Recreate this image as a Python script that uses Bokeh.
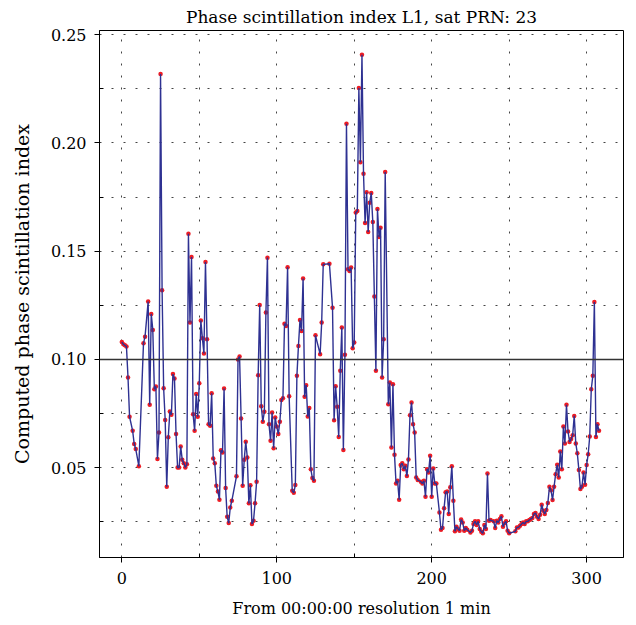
from bokeh.plotting import figure
from bokeh.models import Range1d, Span, FixedTicker, NumeralTickFormatter
from bokeh.embed import file_html
from bokeh.resources import INLINE

# minute index (from 00:00:00, 1 min resolution)
minutes = [0, 1, 2, 3, 4, 5, 7, 8, 9, 11, 14, 15,
           17, 18, 19, 20, 21, 22, 23, 24, 25, 26, 27, 28, 29, 30, 31, 32, 33, 34, 35, 36,
           37, 38, 39, 40, 41, 42, 43, 44, 45, 46, 47, 48, 49, 50, 51, 52, 53, 54, 55, 56,
           57, 58, 59, 60, 61, 62, 63, 64, 65, 66, 67, 68, 69, 70, 71,
           74, 75, 76, 77, 78, 79, 80, 81, 82, 83, 84, 85, 86, 87, 88, 89, 90, 91, 92, 93,
           94, 95, 96, 97, 98, 99, 100, 101, 102, 103, 104, 105, 106, 107, 108,
           110, 111, 112, 113, 114, 115, 116, 117, 118, 119, 120, 121, 122, 123, 124, 125,
           128, 129, 130, 134,
           136, 137, 138, 139, 140, 141, 142, 143, 144, 145, 146, 147, 148, 149, 150, 151,
           152, 153, 154, 155, 156, 157, 158, 159, 160, 161, 162, 163, 164, 165, 166, 167,
           168, 169, 170,
           172, 173, 174, 175, 176, 177, 178, 179, 180, 181, 182, 183, 184, 185, 186, 187,
           188, 189, 190, 191, 193, 194, 195, 196, 197, 198, 199, 200, 201, 202, 203,
           205, 206, 207, 208, 209, 210, 211, 212, 213, 214, 215, 216, 217, 218, 219, 220,
           221, 222, 223, 225, 226, 227, 228, 229, 230, 231,
           232, 233, 234, 235, 236, 237, 238, 240, 241, 242, 243, 244, 245, 246, 247, 248,
           249, 250,
           254, 255, 256, 257, 258, 259, 260, 261, 262, 263, 264, 265, 266, 267, 268, 269,
           270, 271, 272, 273, 274, 275, 276, 277, 278, 279, 280, 281, 282, 283, 284, 285,
           286, 287, 288, 289, 290, 291, 292, 293, 294, 295, 296, 297, 298, 299, 300, 301,
           302, 303, 304, 305, 306, 307, 308]

# computed phase scintillation index
sigma_phi = [0.108, 0.107, 0.1065, 0.1059, 0.0916, 0.0735, 0.067, 0.0609, 0.0586, 0.0507, 0.1075, 0.1105,
             0.1267, 0.079, 0.121, 0.1136, 0.0862, 0.0875, 0.054, 0.0662, 0.2318, 0.1319, 0.0867, 0.072,
             0.0412, 0.064, 0.0759, 0.0744, 0.0932, 0.0912, 0.0655, 0.0501,
             0.0501, 0.0598, 0.0536, 0.052, 0.0501, 0.0516, 0.158, 0.117, 0.1473, 0.0747, 0.067, 0.084,
             0.0735, 0.089, 0.118, 0.1098, 0.1027, 0.145, 0.1093, 0.070,
             0.0693, 0.0844, 0.0542, 0.052, 0.0416, 0.039, 0.0352, 0.058, 0.057, 0.0865, 0.0406, 0.0273,
             0.0244, 0.0316, 0.0347,
             0.046, 0.100, 0.1013, 0.0727, 0.0416, 0.0536, 0.062, 0.0547, 0.0335, 0.0419, 0.024, 0.0255,
             0.0336, 0.0435, 0.0927, 0.1251, 0.0784, 0.0712, 0.0758, 0.1216,
             0.147, 0.070, 0.0624, 0.0755, 0.059, 0.0732, 0.069, 0.0655, 0.0712, 0.0813, 0.082, 0.1165,
             0.1154, 0.1426, 0.083,
             0.0393, 0.0384, 0.042, 0.0924, 0.1062, 0.1182, 0.1131, 0.1374, 0.0827, 0.0881, 0.0736, 0.0776,
             0.0493, 0.0452, 0.0439, 0.1111,
             0.1024, 0.117, 0.1439, 0.1442,
             0.1239, 0.0719, 0.0876, 0.0781, 0.0642, 0.0947, 0.1147, 0.0582, 0.1021, 0.2088, 0.1416, 0.1408,
             0.1424, 0.1051, 0.1078, 0.1678,
             0.1685, 0.2253, 0.191, 0.2407, 0.1857, 0.163, 0.1772, 0.1588, 0.1723, 0.1769, 0.1634, 0.1291,
             0.0947, 0.1695, 0.1565, 0.1608,
             0.0916, 0.1093, 0.1866,
             0.0793, 0.0893, 0.0593, 0.0885, 0.0559, 0.0427, 0.0439, 0.0352, 0.0512, 0.052, 0.0493, 0.0509,
             0.0461, 0.0538, 0.0742, 0.0801,
             0.0701, 0.0662, 0.0455, 0.0443, 0.0435, 0.0427, 0.0439, 0.0366, 0.0493, 0.0478, 0.0555, 0.0366,
             0.0496, 0.0427, 0.0427,
             0.0293, 0.0213, 0.0221, 0.0313, 0.0386, 0.039, 0.0286, 0.0409, 0.0506, 0.0347, 0.0206, 0.0227,
             0.0217, 0.0209, 0.026, 0.0247,
             0.0209, 0.0221, 0.0213, 0.0201, 0.0209, 0.024, 0.0252, 0.0235, 0.0252, 0.0217,
             0.0204, 0.0197, 0.0235, 0.0217, 0.0473, 0.0255, 0.0258, 0.0252, 0.0221, 0.0255, 0.0247, 0.0263,
             0.0275, 0.0227, 0.0243, 0.0252,
             0.0209, 0.0197,
             0.0206, 0.0224, 0.0224, 0.0232, 0.0240, 0.0247, 0.024, 0.0252, 0.0252, 0.0258, 0.0263, 0.0267,
             0.0286, 0.029, 0.0273, 0.0263,
             0.0283, 0.0329, 0.0301, 0.0286, 0.0304, 0.0337, 0.0412, 0.0396, 0.035, 0.0412, 0.047, 0.0513,
             0.0455, 0.0575, 0.0493, 0.069,
             0.0612, 0.079, 0.0667, 0.0619, 0.0632, 0.065, 0.0739, 0.0612, 0.0566, 0.0489, 0.0401, 0.0412,
             0.0478, 0.0421, 0.0512, 0.0562,
             0.0644, 0.0862, 0.0924, 0.1265, 0.0642, 0.0701, 0.067]

threshold = 0.10
x_ticks = [0, 100, 200, 300]
x_minor = [50, 150, 250]
y_ticks = [0.05, 0.10, 0.15, 0.20, 0.25]
y_minor = [0.025, 0.075, 0.125, 0.175, 0.225]

FONT = "DejaVu Serif"

p = figure(width=636, height=625, output_backend="svg", toolbar_location=None,
           x_range=Range1d(-14.4, 323.8), y_range=Range1d(0.0085, 0.2519),
           min_border_left=99, min_border_right=13, min_border_top=29, min_border_bottom=68,
           title="Phase scintillation index L1, sat PRN: 23")

p.title.align = "center"
p.title.text_font = FONT
p.title.text_font_size = "17px"
p.title.text_font_style = "normal"
p.title.text_color = "black"
p.title.standoff = 8

p.outline_line_color = "black"
p.outline_line_width = 1
p.outline_line_alpha = 1

p.xaxis.ticker = FixedTicker(ticks=x_ticks, minor_ticks=x_minor)
p.yaxis.ticker = FixedTicker(ticks=y_ticks, minor_ticks=y_minor)
p.yaxis.formatter = NumeralTickFormatter(format="0.00")

p.xaxis.axis_label = "From 00:00:00 resolution 1 min"
p.yaxis.axis_label = "Computed phase scintillation index"

for ax in (p.xaxis, p.yaxis):
    ax.axis_line_color = "black"
    ax.major_tick_line_color = "black"
    ax.minor_tick_line_color = "black"
    ax.major_tick_out = 5
    ax.major_tick_in = 0
    ax.minor_tick_out = 0
    ax.minor_tick_in = 4
    ax.major_label_text_font = FONT
    ax.major_label_text_font_size = "16px"
    ax.major_label_text_color = "black"
    ax.axis_label_text_font = FONT
    ax.axis_label_text_font_style = "normal"
    ax.axis_label_text_color = "black"

p.xaxis.axis_label_text_font_size = "16px"
p.yaxis.axis_label_text_font_size = "19px"

p.xaxis.major_label_standoff = 9
p.xaxis.axis_label_standoff = 12
p.yaxis.major_label_standoff = 8
p.yaxis.axis_label_standoff = 15

for g in (p.xgrid, p.ygrid):
    g.grid_line_color = "#444444"
    g.grid_line_dash = "2 10"
    g.grid_line_width = 1
    g.minor_grid_line_color = "#444444"
    g.minor_grid_line_dash = "2 10"
    g.minor_grid_line_width = 1

p.add_layout(Span(location=threshold, dimension="width", line_color="#333333", line_width=1.5))

p.scatter(minutes, sigma_phi, size=4.5, color="#ED1C24", line_color=None)
p.line(minutes, sigma_phi, line_color="#2E3192", line_width=1.4)

open("out.html", "w").write(file_html(p, INLINE))
